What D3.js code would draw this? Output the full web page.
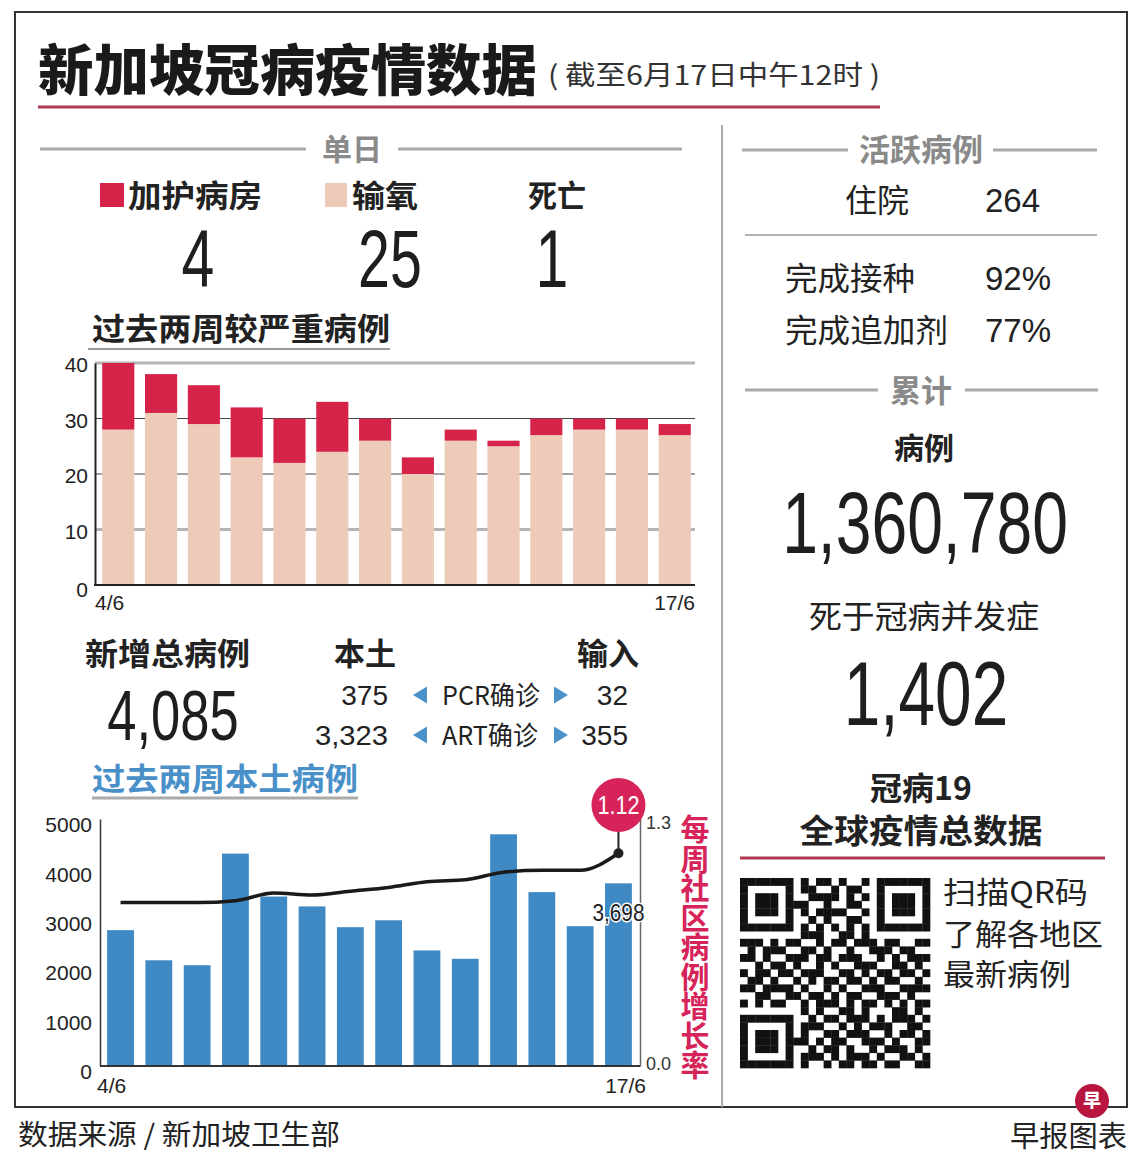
<!DOCTYPE html>
<html>
<head>
<meta charset="utf-8">
<script src="https://cdn.jsdelivr.net/npm/d3@7"></script>
<style>
  body { margin: 0; background: #fff; }
  svg { display: block; }
  .cjk { font-family: "Noto Sans CJK SC", sans-serif; }
  .num { font-family: "Liberation Sans Narrow", "Liberation Sans", Arial, sans-serif; }
</style>
</head>
<body>
<div id="chart"></div>
<script>
// ---- data ----
const days = ["4/6","5/6","6/6","7/6","8/6","9/6","10/6","11/6","12/6","13/6","14/6","15/6","16/6","17/6"];
const oxygen = [28, 31, 29, 23, 22, 24, 26, 20, 26, 25, 27, 28, 28, 27];
const icu = [12, 7, 7, 9, 8, 9, 4, 3, 2, 1, 3, 2, 2, 2];
const severeTicks = [0, 10, 20, 30, 40];

const localCases = [2750, 2140, 2040, 4300, 3430, 3230, 2810, 2950, 2340, 2170, 4690, 3520, 2830, 3698];
const growthRate = [0.86, 0.86, 0.86, 0.87, 0.91, 0.9, 0.92, 0.94, 0.97, 0.98, 1.02, 1.03, 1.03, 1.12];
const caseTicks = [0, 1000, 2000, 3000, 4000, 5000];
const rateTicks = [0, 1.3];

// placeholder QR modules
const qrRows = [
  "1111111010110100101111111",
  "1000001011001011001000001",
  "1011101001111010101011101",
  "1011101110010011001011101",
  "1011101010111100101011101",
  "1000001001010011001000001",
  "1111111010101010101111111",
  "0000000011100110100000000",
  "1110101100101101110110011",
  "0101110011010010011101100",
  "1101001110110111001010111",
  "0010110100101001110011010",
  "1011011011100110101101101",
  "0110100101011011010110010",
  "1101111010010100111001111",
  "0011001101101011001110100",
  "1010110010111010110101011",
  "0000000010100110100011010",
  "1111111001011011101011101",
  "1000001011100101011100110",
  "1011101010011011100101101",
  "1011101110101100111010011",
  "1011101001011010010111010",
  "1000001011101011101001101",
  "1111111010010110110110011"
];

/** CONSTANTS */
const width = 1140, height = 1156;
const red = "#d6234a", pink = "#eecbb8", blue = "#3f89c4", magenta = "#d6245a",
  maroon = "#b03852";

const svg = d3.select("#chart").append("svg")
  .attr("width", width).attr("height", height);

svg.append("rect").attr("width", width).attr("height", height).attr("fill", "#fff");

function txt(x, y, s, o = {}) {
  const t = svg.append("text")
    .attr("x", x).attr("y", y)
    .attr("class", o.cls || "cjk")
    .attr("font-size", o.size || 30)
    .attr("font-weight", o.weight || "normal")
    .attr("fill", o.fill || "#222")
    .attr("text-anchor", o.anchor || "start")
    .text(s);
  if (o.len) t.attr("textLength", o.len).attr("lengthAdjust", "spacingAndGlyphs");
  return t;
}
// condensed numbers: squeeze horizontally with a transform
function bigNum(x, y, s, size, sx, anchor = "middle") {
  svg.append("g").attr("transform", `translate(${x},${y}) scale(${sx},1)`)
    .append("text").attr("class", "num").attr("font-size", size)
    .attr("fill", "#1e1e1e").attr("text-anchor", anchor).text(s);
}
function hline(x1, x2, y, col, w) {
  svg.append("line").attr("x1", x1).attr("x2", x2).attr("y1", y).attr("y2", y)
    .attr("stroke", col).attr("stroke-width", w);
}

// outer frame
svg.append("rect").attr("x", 15).attr("y", 12).attr("width", 1112).attr("height", 1095)
  .attr("fill", "none").attr("stroke", "#333").attr("stroke-width", 2);

// title
txt(38, 90, "新加坡冠病疫情数据", { size: 55, weight: 900, fill: "#1a1a1a", len: 499 });
txt(548, 85, "( 截至6月17日中午12时 )", { size: 27, fill: "#333", len: 332 });
hline(38, 880, 107, maroon, 3);

// column divider
svg.append("line").attr("x1", 722).attr("x2", 722).attr("y1", 125).attr("y2", 1107)
  .attr("stroke", "#aaa").attr("stroke-width", 2);

// ---- 单日 ----
hline(40, 306, 149, "#aaa", 3);
hline(398, 682, 149, "#aaa", 3);
txt(352, 160, "单日", { size: 30, weight: 700, fill: "#8a8a8a", anchor: "middle" });

svg.append("rect").attr("x", 100).attr("y", 183).attr("width", 24).attr("height", 24).attr("fill", red);
txt(128, 207, "加护病房", { size: 31, weight: 700, len: 134 });
svg.append("rect").attr("x", 325).attr("y", 183).attr("width", 22).attr("height", 24).attr("fill", pink);
txt(352, 207, "输氧", { size: 31, weight: 700, len: 66 });
txt(528, 207, "死亡", { size: 31, weight: 700, len: 58 });

bigNum(198, 287, "4", 82, 0.72);
bigNum(390, 287, "25", 82, 0.7);
bigNum(552, 287, "1", 82, 0.72);

txt(92, 340, "过去两周较严重病例", { size: 31, weight: 700, len: 298 });
hline(88, 390, 349, "#999", 2);

// ---- severe cases stacked bars ----
const x1 = d3.scaleBand().domain(days).range([99, 694]).paddingInner(0.25).paddingOuter(0.075);
const y1 = d3.scaleLinear().domain([0, 40]).range([585, 363]);

const g1 = svg.append("g");
// gridlines behind bars
g1.selectAll("line.grid").data(severeTicks.filter(d => d > 0)).join("line")
  .attr("x1", 95).attr("x2", 695)
  .attr("y1", d => y1(d)).attr("y2", d => y1(d))
  .attr("stroke", d => (d === 40 || d === 10) ? "#b5b5b5" : "#444")
  .attr("stroke-width", d => (d === 40 || d === 10) ? 3 : 1);

g1.selectAll("rect.oxy").data(days).join("rect")
  .attr("x", d => x1(d)).attr("width", x1.bandwidth())
  .attr("y", (d, i) => y1(oxygen[i]))
  .attr("height", (d, i) => y1(0) - y1(oxygen[i]))
  .attr("fill", pink);
g1.selectAll("rect.icu").data(days).join("rect")
  .attr("x", d => x1(d)).attr("width", x1.bandwidth())
  .attr("y", (d, i) => y1(oxygen[i] + icu[i]))
  .attr("height", (d, i) => y1(oxygen[i]) - y1(oxygen[i] + icu[i]))
  .attr("fill", red);

const ax1 = g1.append("g").attr("transform", "translate(95,0)")
  .call(d3.axisLeft(y1).tickValues(severeTicks).tickSize(0).tickPadding(7));
ax1.select(".domain").attr("stroke", "#222").attr("stroke-width", 2);
ax1.selectAll("text").attr("class", "num").attr("font-size", 21).attr("fill", "#222")
  .attr("dy", d => d === 0 ? "0.55em" : "0.42em");
hline(94, 695, 585, "#222", 2);
txt(95, 610, days[0], { cls: "num", size: 21 });
txt(695, 610, days[days.length - 1], { cls: "num", size: 21, anchor: "end" });

// ---- new cases ----
txt(85, 665, "新增总病例", { size: 31, weight: 700, len: 165 });
bigNum(173, 740, "4,085", 70, 0.75);
txt(365, 665, "本土", { size: 31, weight: 700, anchor: "middle" });
txt(608, 665, "输入", { size: 31, weight: 700, anchor: "middle" });

function arrow(cx, cy, dir) {
  const s = 7;
  svg.append("path")
    .attr("d", dir < 0
      ? `M${cx - s},${cy} L${cx + s},${cy - s * 1.2} L${cx + s},${cy + s * 1.2} Z`
      : `M${cx + s},${cy} L${cx - s},${cy - s * 1.2} L${cx - s},${cy + s * 1.2} Z`)
    .attr("fill", "#4a92c9");
}
txt(388, 705, "375", { cls: "num", size: 28, anchor: "end" });
arrow(420, 695, -1);
txt(442, 705, "PCR确诊", { size: 26, len: 98 });
arrow(561, 695, 1);
txt(628, 705, "32", { cls: "num", size: 28, anchor: "end" });

txt(388, 745, "3,323", { cls: "num", size: 28, anchor: "end", len: 73 });
arrow(420, 735, -1);
txt(442, 745, "ART确诊", { size: 26, len: 96 });
arrow(561, 735, 1);
txt(628, 745, "355", { cls: "num", size: 28, anchor: "end" });

txt(92, 790, "过去两周本土病例", { size: 31, weight: 700, fill: "#4a90c8", len: 266 });
hline(92, 358, 798, "#aaa", 3);

// ---- local cases bars + growth line ----
const x2 = d3.scaleBand().domain(days).range([101, 638]).paddingInner(0.3).paddingOuter(0.16);
const y2 = d3.scaleLinear().domain([0, 5000]).range([1066, 819]);
const y2r = d3.scaleLinear().domain([0, 1.3]).range([1066, 819]);

const g2 = svg.append("g");
g2.selectAll("rect.case").data(days).join("rect")
  .attr("x", d => x2(d)).attr("width", x2.bandwidth())
  .attr("y", (d, i) => y2(localCases[i]))
  .attr("height", (d, i) => y2(0) - y2(localCases[i]))
  .attr("fill", blue);

const ax2 = g2.append("g").attr("transform", "translate(100,0)")
  .call(d3.axisLeft(y2).tickValues(caseTicks).tickSize(0).tickPadding(8).tickFormat(d3.format("d")));
ax2.select(".domain").attr("stroke", "#333").attr("stroke-width", 1.5);
ax2.selectAll("text").attr("class", "num").attr("font-size", 21).attr("fill", "#222")
  .attr("dy", "0.6em");

const ax2r = g2.append("g").attr("transform", "translate(640,0)")
  .call(d3.axisRight(y2r).tickValues(rateTicks).tickSize(0).tickPadding(6).tickFormat(d3.format(".1f")));
ax2r.select(".domain").attr("stroke", "#666").attr("stroke-width", 1.5);
ax2r.selectAll("text").attr("class", "num").attr("font-size", 18).attr("fill", "#333")
  .attr("dy", d => d === 0 ? "0.2em" : "0.5em");

hline(100, 640, 1066, "#333", 2);
txt(97, 1093, days[0], { cls: "num", size: 21 });
txt(646, 1093, days[days.length - 1], { cls: "num", size: 21, anchor: "end" });

const line = d3.line()
  .x((d, i) => x2(days[i]) + x2.bandwidth() / 2)
  .y(d => y2r(d))
  .curve(d3.curveMonotoneX);
g2.append("path").datum(growthRate).attr("d", line)
  .attr("fill", "none").attr("stroke", "#1a1a1a").attr("stroke-width", 3.5);

const lastI = days.length - 1;
const lx = x2(days[lastI]) + x2.bandwidth() / 2, ly = y2r(growthRate[lastI]);
g2.append("line").attr("x1", lx).attr("x2", lx).attr("y1", 830).attr("y2", ly)
  .attr("stroke", "#222").attr("stroke-width", 2);
g2.append("circle").attr("cx", lx).attr("cy", ly).attr("r", 5).attr("fill", "#222");
g2.append("circle").attr("cx", lx).attr("cy", 805).attr("r", 27).attr("fill", magenta);
g2.append("text").attr("x", lx).attr("y", 814).attr("text-anchor", "middle")
  .attr("class", "num").attr("font-size", 26).attr("fill", "#fff")
  .attr("textLength", 42).attr("lengthAdjust", "spacingAndGlyphs")
  .text(d3.format(".2f")(growthRate[lastI]));
g2.append("text").attr("x", lx).attr("y", y2(localCases[lastI]) + 38).attr("text-anchor", "middle")
  .attr("class", "num").attr("font-size", 23).attr("fill", "#222")
  .attr("stroke", "#fff").attr("stroke-width", 3).attr("paint-order", "stroke")
  .attr("textLength", 52).attr("lengthAdjust", "spacingAndGlyphs")
  .text(d3.format(",")(localCases[lastI]));

// vertical axis title, one text flowing top to bottom
svg.append("text").attr("class", "cjk")
  .attr("x", 695).attr("y", 814)
  .style("writing-mode", "vertical-rl")
  .attr("font-size", 29).attr("font-weight", 700)
  .attr("textLength", 266).attr("lengthAdjust", "spacingAndGlyphs")
  .attr("fill", magenta).text("每周社区病例增长率");

// ---- right column ----
hline(742, 848, 150, "#aaa", 3);
hline(993, 1097, 150, "#aaa", 3);
txt(921, 161, "活跃病例", { size: 31, weight: 700, fill: "#8a8a8a", anchor: "middle" });
txt(877, 212, "住院", { size: 32, anchor: "middle" });
txt(985, 212, "264", { cls: "num", size: 33 });
hline(745, 1097, 235, "#999", 1.5);
txt(785, 290, "完成接种", { size: 32, len: 130 });
txt(985, 290, "92%", { cls: "num", size: 33 });
txt(785, 342, "完成追加剂", { size: 32, len: 163 });
txt(985, 342, "77%", { cls: "num", size: 33 });

hline(745, 878, 390, "#aaa", 3);
hline(965, 1098, 390, "#aaa", 3);
txt(921, 402, "累计", { size: 31, weight: 700, fill: "#8a8a8a", anchor: "middle" });
txt(924, 459, "病例", { size: 30, weight: 700, anchor: "middle" });
bigNum(925, 553, "1,360,780", 88, 0.73);
txt(924, 628, "死于冠病并发症", { size: 32, anchor: "middle", len: 230 });
bigNum(926, 725, "1,402", 90, 0.73);
txt(921, 800, "冠病19", { size: 32, weight: 700, anchor: "middle" });
txt(921, 843, "全球疫情总数据", { size: 33, weight: 700, anchor: "middle", len: 243 });
hline(740, 1105, 858, maroon, 3);

// QR code
const qs = 190 / qrRows.length;
const qr = svg.append("g").attr("transform", "translate(740,878)");
qrRows.forEach((row, r) => {
  row.split("").forEach((c, k) => {
    if (c === "1") qr.append("rect").attr("x", k * qs).attr("y", r * qs)
      .attr("width", qs + 0.3).attr("height", qs + 0.3).attr("fill", "#111");
  });
});
txt(943, 903, "扫描QR码", { size: 30, fill: "#222", len: 145 });
txt(943, 945, "了解各地区", { size: 30, fill: "#222", len: 160 });
txt(943, 985, "最新病例", { size: 30, fill: "#222", len: 128 });

// footer
txt(18, 1145, "数据来源 / 新加坡卫生部", { size: 28, fill: "#222", len: 322 });
txt(1127, 1147, "早报图表", { size: 29, fill: "#222", anchor: "end", len: 117 });
svg.append("circle").attr("cx", 1092).attr("cy", 1101).attr("r", 17).attr("fill", "#b8163e");
txt(1092, 1107, "早", { size: 18, weight: 900, fill: "#fff", anchor: "middle" });
</script>
</body>
</html>
